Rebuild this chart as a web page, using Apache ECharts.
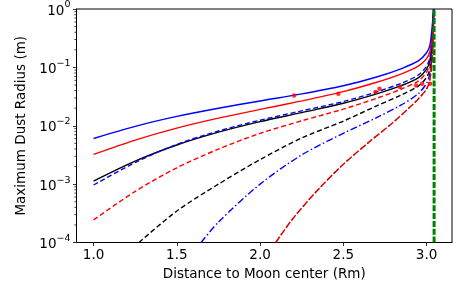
<!DOCTYPE html>
<html><head><meta charset="utf-8">
<script src="https://cdn.jsdelivr.net/npm/echarts@6/dist/echarts.min.js"></script>
<style>html,body{margin:0;padding:0;background:#fff}#c{width:465px;height:288px}</style>
</head><body><div id="c"></div>
<script>
// ---- data ----
const xTicks = [1.0, 1.5, 2.0, 2.5, 3.0];
const yTicks = [1e-4, 1e-3, 1e-2, 1e-1, 1];
const yMinorTicks = [2e-4,3e-4,4e-4,5e-4,6e-4,7e-4,8e-4,9e-4,2e-3,3e-3,4e-3,5e-3,6e-3,7e-3,8e-3,9e-3,
  2e-2,3e-2,4e-2,5e-2,6e-2,7e-2,8e-2,9e-2,0.2,0.3,0.4,0.5,0.6,0.7,0.8,0.9];

const blueSolidX = [1.0, 1.25, 1.5, 1.75, 2.0, 2.25, 2.5, 2.7, 2.85, 2.95, 3.0, 3.02, 3.035, 3.041];
const blueSolidY = [6.05e-3, 9.77e-3, 1.445e-2, 1.995e-2, 2.661e-2, 3.508e-2, 4.842e-2, 6.839e-2, 9.55e-2, 0.1288, 0.1778, 0.2399, 0.5623, 1.0];

const redSolidX = [1.0, 1.25, 1.5, 1.75, 2.0, 2.25, 2.5, 2.7, 2.85, 2.95, 3.0, 3.02, 3.035, 3.042];
const redSolidY = [3.228e-3, 5.689e-3, 9.12e-3, 1.349e-2, 1.905e-2, 2.661e-2, 3.846e-2, 5.559e-2, 7.762e-2, 0.1047, 0.1413, 0.1905, 0.3981, 1.0];

const blackSolidX = [1.0, 1.25, 1.5, 1.75, 2.0, 2.25, 2.5, 2.7, 2.85, 2.95, 3.0, 3.02, 3.035, 3.043];
const blackSolidY = [1.130e-3, 2.483e-3, 4.677e-3, 7.762e-3, 1.175e-2, 1.679e-2, 2.427e-2, 3.508e-2, 4.898e-2, 6.607e-2, 9.333e-2, 0.1318, 0.3162, 1.0];

const blueDashedX = [1.0, 1.25, 1.5, 1.75, 2.0, 2.25, 2.5, 2.7, 2.85, 2.95, 3.0, 3.02, 3.035, 3.042];
const blueDashedY = [9.66e-4, 2.344e-3, 4.786e-3, 8.128e-3, 1.245e-2, 1.799e-2, 2.6e-2, 3.802e-2, 5.370e-2, 7.413e-2, 0.1047, 0.1479, 0.3548, 1.0];

const redDashedX = [1.0, 1.25, 1.5, 1.75, 2.0, 2.25, 2.5, 2.7, 2.85, 2.95, 3.0, 3.02, 3.035, 3.043];
const redDashedY = [2.438e-4, 7.499e-4, 1.905e-3, 3.981e-3, 7.413e-3, 1.216e-2, 1.928e-2, 2.951e-2, 4.266e-2, 5.821e-2, 8.318e-2, 0.1175, 0.2818, 1.0];

const blackDashedX = [1.273, 1.5, 1.75, 2.0, 2.25, 2.5, 2.7, 2.85, 2.95, 3.0, 3.02, 3.035, 3.043];
const blackDashedY = [1e-4, 3.467e-4, 1e-3, 2.630e-3, 6.166e-3, 1.202e-2, 2.188e-2, 3.388e-2, 4.786e-2, 6.761e-2, 9.55e-2, 0.2512, 1.0];

const blueDashDotX = [1.646, 1.75, 2.0, 2.25, 2.5, 2.7, 2.85, 2.95, 3.0, 3.02, 3.035, 3.043];
const blueDashDotY = [1e-4, 2.239e-4, 1e-3, 3.162e-3, 7.413e-3, 1.380e-2, 2.291e-2, 3.548e-2, 5.370e-2, 7.943e-2, 0.1995, 1.0];

const darkRedX = [2.094, 2.2, 2.35, 2.5, 2.65, 2.8, 2.9, 2.95, 3.0, 3.02, 3.035, 3.044];
const darkRedY = [1e-4, 2.630e-4, 8.128e-4, 2.188e-3, 5.129e-3, 1.148e-2, 2.089e-2, 2.884e-2, 4.266e-2, 6.310e-2, 0.1585, 1.0];

const limitX = [3.045, 3.045];
const limitY = [1e-4, 1.0];

const markerX = [2.204, 2.470, 2.693, 2.717, 2.841, 2.937, 2.973, 3.021];
const markerY = [0.0331, 0.0354, 0.0378, 0.0431, 0.0459, 0.0491, 0.0525, 0.0525];

// ---- chart ----
const X_MIN = 0.8975, X_MAX = 3.1525;
const FONT = 'DejaVu Sans';
const zip = (xs, ys) => xs.map((x, i) => [x, ys[i]]);

function lineSeries(xs, ys, color, type, width, z) {
  return {
    type: 'line', data: zip(xs, ys), showSymbol: false, symbol: 'none',
    smooth: 0.3, clip: true, z: z || 2,
    lineStyle: { color: color, width: width || 1.4, type: type || 'solid' },
    emphasis: { disabled: true }, silent: true
  };
}

const chart = echarts.init(document.getElementById('c'), null, { renderer: 'canvas' });
chart.setOption({
  animation: false,
  backgroundColor: '#fff',
  textStyle: { fontFamily: FONT },
  grid: { left: 76.5, top: 8.3, width: 375.5, height: 234.2, show: true, borderColor: '#000', borderWidth: 1, backgroundColor: 'transparent' },
  xAxis: {
    type: 'value', min: X_MIN, max: X_MAX,
    name: 'Distance to Moon center (Rm)', nameLocation: 'middle', nameGap: 23,
    nameTextStyle: { fontFamily: FONT, fontSize: 13.5, color: '#000' },
    axisLine: { show: true, lineStyle: { color: '#000', width: 1 } },
    axisTick: { show: true, length: 3.5, customValues: xTicks, lineStyle: { color: '#000', width: 0.8 } },
    axisLabel: { customValues: xTicks, formatter: v => v.toFixed(1), margin: 6, fontFamily: FONT, fontSize: 13.5, color: '#000' },
    splitLine: { show: false }
  },
  yAxis: {
    type: 'log', logBase: 10, min: 1e-4, max: 1,
    name: 'Maximum Dust Radius (m)', nameLocation: 'middle', nameGap: 46,
    nameTextStyle: { fontFamily: FONT, fontSize: 13.5, color: '#000' },
    axisLine: { show: true, lineStyle: { color: '#000', width: 1 } },
    axisTick: { show: true, length: 3.5, lineStyle: { color: '#000', width: 0.8 } },
    axisLabel: {
      margin: 6,
      formatter: v => { const e = Math.round(Math.log10(v)); return '{b|10}{s|' + (e < 0 ? '\u2212' : '') + Math.abs(e) + '}'; },
      rich: {
        b: { fontFamily: FONT, fontSize: 13.5, color: '#000', padding: [4, 0, 0, 0] },
        s: { fontFamily: FONT, fontSize: 9.5, color: '#000', padding: [0, 0, 8, 0] }
      }
    },
    splitLine: { show: false }
  },
  series: [
    {
      type: 'custom', silent: true, clip: false, z: 10,
      data: yMinorTicks.map(v => [X_MIN, v]),
      renderItem: (params, api) => {
        const p = api.coord([api.value(0), api.value(1)]);
        return { type: 'line', shape: { x1: p[0] - 2.2, y1: p[1], x2: p[0], y2: p[1] }, style: { stroke: '#000', lineWidth: 0.7 } };
      }
    },
    lineSeries(darkRedX, darkRedY, '#333', [2, 7], 1.1, 2),
    lineSeries(darkRedX, darkRedY, '#e00000', [7, 2], 1.5, 3),
    lineSeries(blueDashDotX, blueDashDotY, '#0000ff', [7, 2.5, 1.5, 2.5], 1.4),
    lineSeries(blackDashedX, blackDashedY, '#000', [5, 2.8], 1.4),
    lineSeries(redDashedX, redDashedY, '#ff0000', [5, 2.8], 1.4),
    lineSeries(blackSolidX, blackSolidY, '#000', 'solid', 1.4),
    lineSeries(blueDashedX, blueDashedY, '#0000ff', [5, 2.8], 1.4),
    lineSeries(redSolidX, redSolidY, '#ff0000', 'solid', 1.4),
    lineSeries(blueSolidX, blueSolidY, '#0000ff', 'solid', 1.4),
    {
      type: 'line', data: zip(limitX, limitY), showSymbol: false, symbol: 'none', z: 6, silent: true,
      lineStyle: { color: '#008000', width: 3, type: [6, 1.8] }
    },
    {
      type: 'scatter', data: zip(markerX, markerY), symbol: 'circle', symbolSize: 4.5, z: 8, silent: true,
      itemStyle: { color: '#ff0000' }
    }
  ]
});
</script>
</body></html>
